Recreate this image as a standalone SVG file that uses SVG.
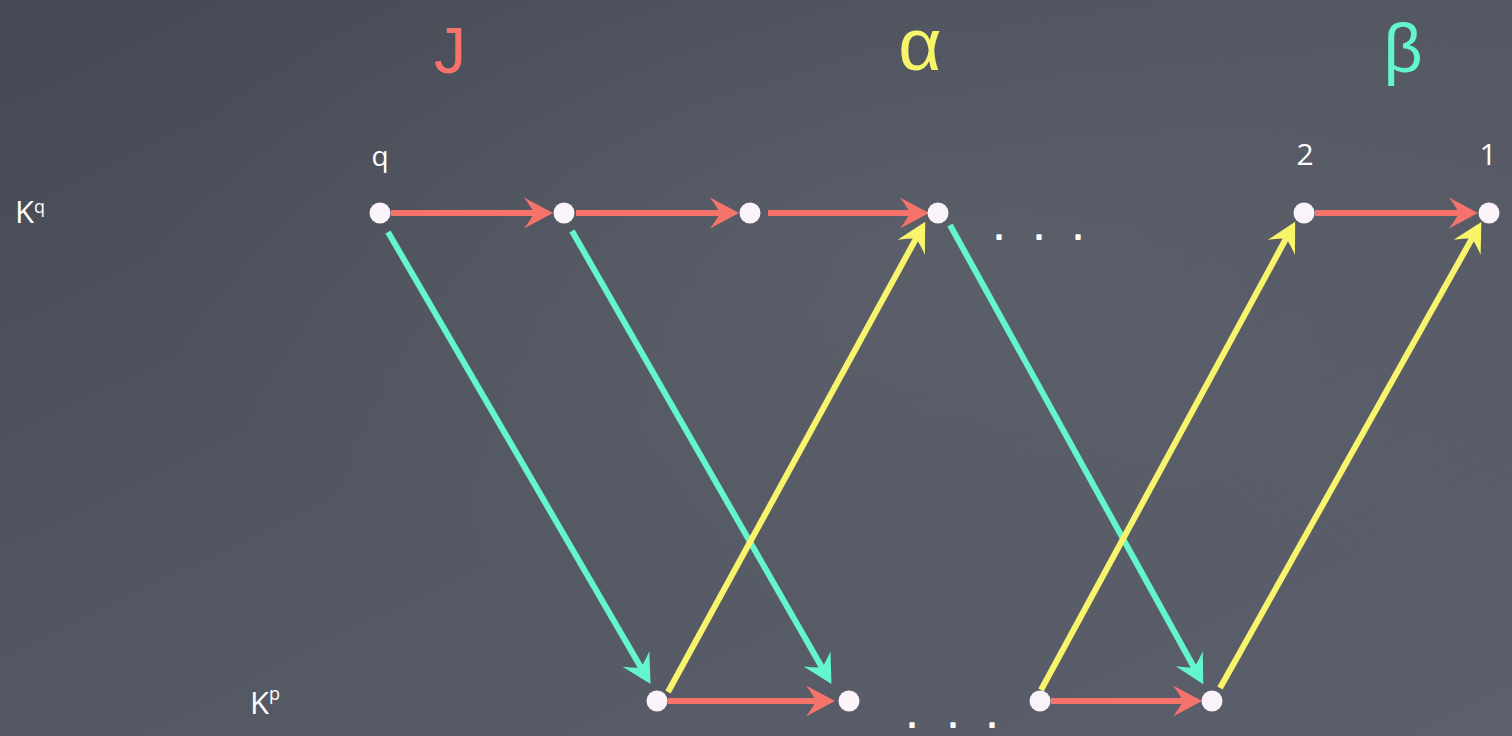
<svg xmlns="http://www.w3.org/2000/svg" width="1512" height="736" viewBox="0 0 1512 736">
<defs>
<linearGradient id="bg" x1="0" y1="0" x2="1" y2="1">
<stop offset="0" stop-color="#454953"/>
<stop offset="0.5" stop-color="#545863"/>
<stop offset="1" stop-color="#5c606c"/>
</linearGradient>
<radialGradient id="glow" cx="0.6" cy="0.35" r="0.5">
<stop offset="0" stop-color="#6a6f7a" stop-opacity="0.3"/>
<stop offset="1" stop-color="#6a6f7a" stop-opacity="0"/>
</radialGradient>
<marker id="ar" viewBox="-15 -16 30 32" refX="0" refY="0" markerWidth="30" markerHeight="32" markerUnits="userSpaceOnUse" orient="auto" overflow="visible">
<path d="M15,0 L-14,-15.5 Q-7,-6 -4,0 Q-7,6 -14,15.5 Z" fill="#f5736b"/>
</marker>
<marker id="at" viewBox="-15 -16 30 32" refX="0" refY="0" markerWidth="30" markerHeight="32" markerUnits="userSpaceOnUse" orient="auto" overflow="visible">
<path d="M15,0 L-14,-15.5 Q-7,-6 -4,0 Q-7,6 -14,15.5 Z" fill="#63f5cb"/>
</marker>
<marker id="ay" viewBox="-15 -16 30 32" refX="0" refY="0" markerWidth="30" markerHeight="32" markerUnits="userSpaceOnUse" orient="auto" overflow="visible">
<path d="M15,0 L-14,-15.5 Q-7,-6 -4,0 Q-7,6 -14,15.5 Z" fill="#f8f56a"/>
</marker>
</defs>
<style>
.lbl{font-family:"Open Sans","Noto Sans",sans-serif;fill:#ffffff}
.big{font-family:"Liberation Sans","DejaVu Sans",sans-serif;text-anchor:middle}
.node{fill:#fbf3fa}
.r{stroke:#f5736b;stroke-width:6;fill:none;marker-end:url(#ar)}
.t{stroke:#63f5cb;stroke-width:6;fill:none;marker-end:url(#at)}
.y{stroke:#f8f56a;stroke-width:6;fill:none;marker-end:url(#ay)}
.dots{font-family:"DejaVu Sans",sans-serif;font-size:30px;fill:#ffffff;text-anchor:middle;stroke:#ffffff;stroke-width:2;stroke-linejoin:round}
</style>
<rect width="1512" height="736" fill="url(#bg)"/>
<rect width="1512" height="736" fill="url(#glow)"/>

<g id="headers">
<text class="big" x="450" y="73" font-size="64" fill="#f5736b">J</text>
<text class="big" x="920" y="70" font-size="75" fill="#f8f56a">α</text>
<text class="big" x="1403" y="72" font-size="68" fill="#63f5cb">β</text>
</g>

<g id="row-labels">
<text class="lbl" x="15" y="223" font-size="31">K<tspan font-size="18" dy="-10">q</tspan></text>
<text class="lbl" x="250" y="714" font-size="31">K<tspan font-size="18" dy="-14">p</tspan></text>
</g>

<g id="connectors">
<line class="r" x1="391" y1="213" x2="538" y2="213"/>
<line class="r" x1="576" y1="213" x2="724" y2="213"/>
<line class="r" x1="768" y1="213" x2="914" y2="213"/>
<line class="r" x1="1315" y1="213" x2="1463" y2="213"/>
<line class="r" x1="668" y1="701" x2="820" y2="701"/>
<line class="r" x1="1051" y1="701" x2="1187" y2="701"/>
<line class="t" x1="388" y1="232" x2="643" y2="671"/>
<line class="t" x1="572" y1="231" x2="824" y2="671"/>
<line class="t" x1="950" y1="225" x2="1196" y2="671"/>
<line class="y" x1="668" y1="692" x2="918" y2="235"/>
<line class="y" x1="1041" y1="690" x2="1288" y2="235"/>
<line class="y" x1="1220" y1="688" x2="1474" y2="235"/>
</g>

<g id="n-q"><circle class="node" cx="380" cy="213" r="10.5"/><text class="lbl" x="380" y="166" font-size="28" text-anchor="middle">q</text></g>
<g id="n-top2"><circle class="node" cx="564" cy="213" r="10.5"/></g>
<g id="n-top3"><circle class="node" cx="750" cy="213" r="10.5"/></g>
<g id="n-top4"><circle class="node" cx="938" cy="213" r="10.5"/></g>
<g id="n-2"><circle class="node" cx="1304" cy="213" r="10.5"/><text class="lbl" x="1305" y="165" font-size="30" text-anchor="middle">2</text></g>
<g id="n-1"><circle class="node" cx="1489" cy="213" r="10.5"/><text class="lbl" x="1488" y="165" font-size="30" text-anchor="middle">1</text></g>
<g id="n-bot1"><circle class="node" cx="657" cy="701" r="10.5"/></g>
<g id="n-bot2"><circle class="node" cx="849" cy="701" r="10.5"/></g>
<g id="n-bot3"><circle class="node" cx="1040" cy="701" r="10.5"/></g>
<g id="n-bot4"><circle class="node" cx="1212" cy="701" r="10.5"/></g>

<g id="ellipses">
<text class="dots" x="999 1039 1078" y="239">...</text>
<text class="dots" x="912 953 992" y="727">...</text>
</g>
</svg>
